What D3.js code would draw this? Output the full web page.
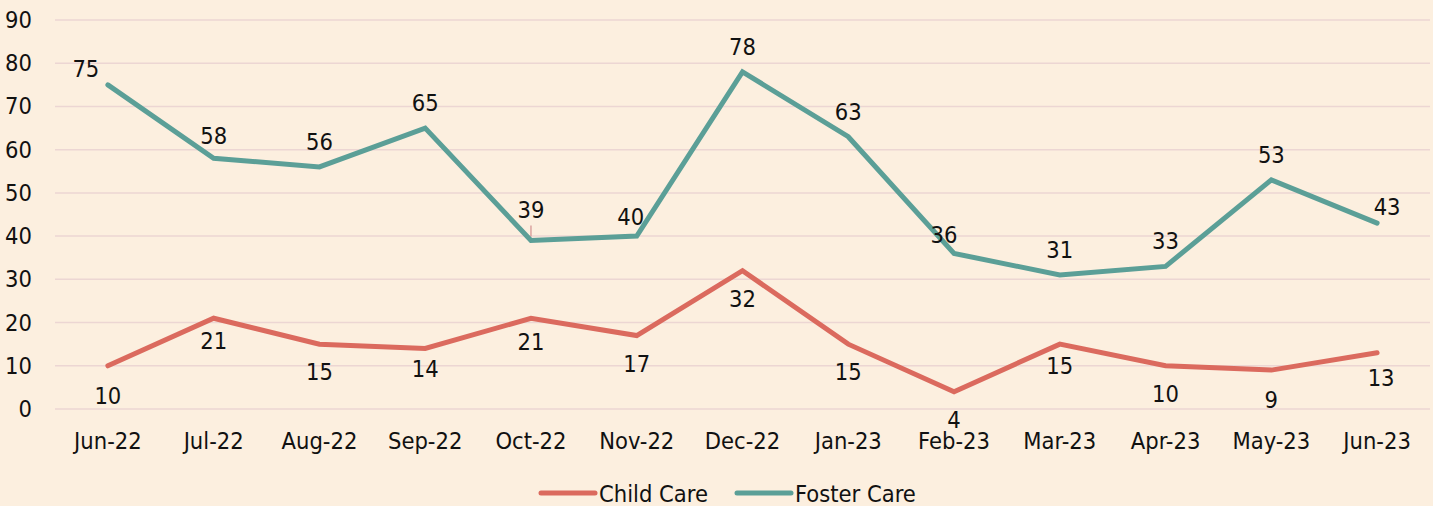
<!DOCTYPE html>
<html>
<head>
<meta charset="utf-8">
<script src="https://cdn.jsdelivr.net/npm/d3@7"></script>
<style>
  body { margin: 0; background: #fcefdf; }
  svg text { font-family: "DejaVu Sans Condensed", "DejaVu Sans", sans-serif; font-stretch: condensed; fill: #111; }
</style>
</head>
<body>
<div id="chart"></div>
<script>
// chart data
let months = ["Jun-22", "Jul-22", "Aug-22", "Sep-22", "Oct-22", "Nov-22", "Dec-22",
              "Jan-23", "Feb-23", "Mar-23", "Apr-23", "May-23", "Jun-23"];
let childCare = [10, 21, 15, 14, 21, 17, 32, 15, 4, 15, 10, 9, 13];
let fosterCare = [75, 58, 56, 65, 39, 40, 78, 63, 36, 31, 33, 53, 43];
let yTicks = [0, 10, 20, 30, 40, 50, 60, 70, 80, 90];

let W = 1433, H = 506;
let fontSize = "23.5px";
let margin = {top: 20, right: 3, bottom: 97, left: 55},
    width = W - margin.left - margin.right,
    height = H - margin.top - margin.bottom;

let svg = d3.select("#chart").append("svg")
    .attr("width", W).attr("height", H)
    .style("display", "block");
svg.append("rect").attr("width", W).attr("height", H).attr("fill", "#fcefdf");

let g = svg.append("g").attr("transform", "translate(" + margin.left + "," + margin.top + ")");

//scales
let x = d3.scaleBand().domain(months).range([0, width]);
let y = d3.scaleLinear().domain([0, 90]).range([height, 0]);
let cx = function(d, i) { return x(months[i]) + x.bandwidth() / 2; };

//gridlines
g.selectAll(".grid")
    .data(yTicks)
    .enter().append("line")
    .attr("class", "grid")
    .attr("x1", 0).attr("x2", width)
    .attr("y1", function(d) { return y(d); })
    .attr("y2", function(d) { return y(d); })
    .style("stroke", "#ecd6d3")
    .style("stroke-width", 1.5);

//y axis labels
let yAxis = g.append("g")
    .call(d3.axisLeft(y).tickValues(yTicks).tickSize(0).tickPadding(23));
yAxis.select(".domain").remove();
yAxis.selectAll("text").style("font-size", fontSize).attr("fill", "#111");

//x axis labels
let xAxis = g.append("g")
    .attr("transform", "translate(0," + height + ")")
    .call(d3.axisBottom(x).tickSize(0).tickPadding(23));
xAxis.select(".domain").remove();
xAxis.selectAll("text").style("font-size", fontSize).attr("fill", "#111");

//label nudges (Excel labels were moved by hand in a few places)
let childNudge = {0: [0, 2], 1: [0, -5], 3: [0, -7], 4: [0, -4], 9: [0, -6], 11: [0, 2], 12: [4, -3]};
let fosterNudge = {0: [-22, 9], 1: [0, 3], 4: [0, -5], 5: [-6, 6], 8: [-10, 7], 12: [10, 9]};

let series = [
  {name: "Child Care", values: childCare, color: "#db6a5e", dy: 36, nudge: childNudge},
  {name: "Foster Care", values: fosterCare, color: "#5b9f97", dy: -17, nudge: fosterNudge}
];

let line = d3.line()
    .x(function(d, i) { return cx(d, i); })
    .y(function(d) { return y(d); });

//small leader line left under the moved Oct-22 foster label
g.append("line")
    .attr("x1", cx(fosterCare[4], 4)).attr("x2", cx(fosterCare[4], 4))
    .attr("y1", y(fosterCare[4]) - 15).attr("y2", y(fosterCare[4]) - 4)
    .style("stroke", "#dba39f")
    .style("stroke-width", 1.5);

series.forEach(function(s) {
  g.append("path")
    .datum(s.values)
    .attr("d", line)
    .attr("fill", "none")
    .attr("stroke", s.color)
    .attr("stroke-width", 5)
    .attr("stroke-linejoin", "miter")
    .attr("stroke-linecap", "round");

  //data labels
  g.selectAll(".lbl-" + s.name.replace(" ", ""))
    .data(s.values)
    .enter().append("text")
    .attr("x", function(d, i) { return cx(d, i) + (s.nudge[i] ? s.nudge[i][0] : 0); })
    .attr("y", function(d, i) { return y(d) + s.dy + (s.nudge[i] ? s.nudge[i][1] : 0); })
    .attr("text-anchor", "middle")
    .style("font-size", fontSize)
    .text(function(d) { return d; });
});

//legend
let legend = svg.append("g").attr("transform", "translate(0,493)");
let legendPos = [541, 737];
series.forEach(function(s, i) {
  legend.append("line")
    .attr("x1", legendPos[i]).attr("x2", legendPos[i] + 54)
    .attr("stroke", s.color).attr("stroke-width", 5)
    .attr("stroke-linecap", "round");
  legend.append("text")
    .attr("x", legendPos[i] + 58).attr("y", 8.5)
    .style("font-size", fontSize)
    .text(s.name);
});
</script>
</body>
</html>
